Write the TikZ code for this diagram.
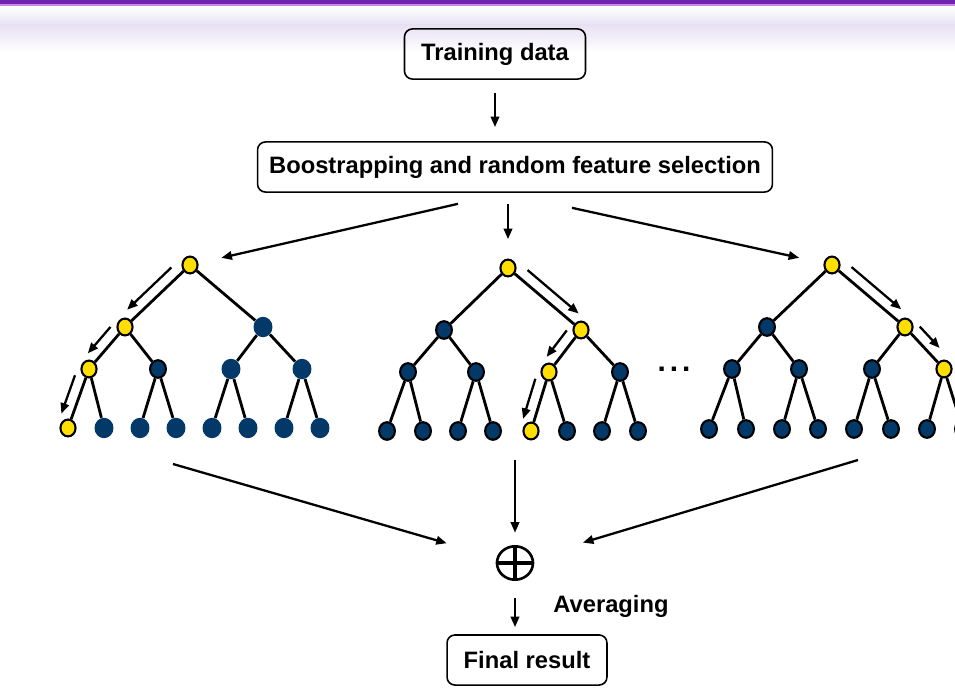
\documentclass[tikz,border=0pt]{standalone}
\usepackage{fontspec}
\setmainfont{Liberation Sans}
\usepackage{xcolor}
\usetikzlibrary{arrows.meta,calc,shapes.geometric}

\definecolor{leafblue}{RGB}{3,57,104}
\definecolor{pathyellow}{RGB}{255,222,0}
\definecolor{barpurple}{RGB}{110,36,172}
\definecolor{barpink}{RGB}{206,132,236}
\definecolor{haze}{RGB}{231,225,243}

\begin{document}
\begin{tikzpicture}[
  x=0.2mm,y=-0.2mm,
  txt/.style={font=\fontsize{13.5}{16}\selectfont\bfseries},
  box/.style={txt,draw,line width=0.9pt,rounded corners=4.5pt,
    minimum height=28.5pt,inner sep=2pt},
  yel/.style={ellipse,draw,line width=1.2pt,fill=pathyellow,
    minimum width=8.6pt,minimum height=9.6pt,inner sep=0pt},
  blu/.style={ellipse,draw,line width=1.2pt,fill=leafblue,
    minimum width=9pt,minimum height=10pt,inner sep=0pt},
  bare/.style={ellipse,fill=leafblue,
    minimum width=10.8pt,minimum height=11.6pt,inner sep=0pt},
  edge/.style={line width=1.6pt},
  arr/.style={-{Triangle[length=6pt,width=4.8pt]},line width=1.3pt}
]
\useasboundingbox (0,0) rectangle (955,688);

% title bar
\shade[top color=white,bottom color=haze] (0,6) rectangle (955,25);
\shade[top color=haze,bottom color=white] (0,25) rectangle (955,52);
\fill[barpink] (0,3) rectangle (955,6.5);
\fill[barpurple] (0,0) rectangle (955,4.5);

\node[box,minimum width=103pt] (train) at (495,54) {Training data};
\node[box,minimum width=293pt] (boost) at (515,167)
  {Boostrapping and random feature selection};
\node[box,minimum width=91pt] (final) at (527,660) {Final result};
\node[txt] (avg) at (611,606) {Averaging};
\node[ellipse,draw,line width=1.5pt,minimum width=20.5pt,
      minimum height=19pt] (sum) at (515,563) {};
\draw[line width=2.1pt] (sum.north) -- (sum.south) (sum.west) -- (sum.east);

% tree 1
\begin{scope}[shift={(190,265)}]
  \node[yel]  (t1r) at (0,0) {};
  \node[yel]  (t1a) at (-65,62) {};
  \node[bare] (t1b) at (73,62) {};
  \foreach \n/\x/\s in {c/-101/yel,d/-32/blu,e/41/bare,f/112/bare}
    \node[\s] (t1\n) at (\x,104) {};
  \foreach \n/\x/\s in {1/-122/yel,2/-86/bare,3/-50/bare,4/-14/bare,
                        5/22/bare,6/58/bare,7/94/bare,8/130/bare}
    \node[\s] (t1l\n) at (\x,163) {};
\end{scope}

% tree 2
\begin{scope}[shift={(508,268)}]
  \node[yel] (t2r) at (0,0) {};
  \node[blu] (t2a) at (-64,62) {};
  \node[yel] (t2b) at (73,62) {};
  \foreach \n/\x/\s in {c/-100/blu,d/-32/blu,e/41/yel,f/112/blu}
    \node[\s] (t2\n) at (\x,104) {};
  \foreach \n/\x/\s in {1/-121/blu,2/-85/blu,3/-50/blu,4/-15/blu,
                        5/23/yel,6/59/blu,7/94/blu,8/130/blu}
    \node[\s] (t2l\n) at (\x,163) {};
\end{scope}

\node[font=\fontsize{17}{18}\selectfont\bfseries,anchor=base] (dots)
  at (674,371) {.\kern2.2pt.\kern2.2pt.};

% tree 3
\begin{scope}[shift={(832,265)}]
  \node[yel] (t3r) at (0,0) {};
  \node[blu] (t3a) at (-65,62) {};
  \node[yel] (t3b) at (73,62) {};
  \foreach \n/\x/\s in {c/-100/blu,d/-33/blu,e/40/blu,f/112/yel}
    \node[\s] (t3\n) at (\x,104) {};
  \foreach \n/\x in {1/-123,2/-86,3/-50,4/-14,5/22,6/59,7/95,8/131}
    \node[blu] (t3l\n) at (\x,164) {};
\end{scope}

\foreach \t in {1,2,3}
  \foreach \p/\c in {r/a,r/b,a/c,a/d,b/e,b/f,c/l1,c/l2,
                     d/l3,d/l4,e/l5,e/l6,f/l7,f/l8}
    \draw[edge] (t\t\p) -- (t\t\c);

% decision path
\foreach \a/\b/\s/\e in {t1r/t1a/-90/.85,t1a/t1c/-90/.8,t1c/t1l1/-90/.82,
                         t2r/t2b/90/.87,t2b/t2e/-90/.8,t2e/t2l5/-90/.85,
                         t3r/t3b/90/.85,t3b/t3f/90/.68}
  \draw[arr] ($(\a)!.17!(\b)!6.3pt!\s:(\b)$) -- ($(\a)!\e!(\b)!6.3pt!\s:(\b)$);

% bootstrap samples
\coordinate (o1) at ([shift={(-57,11)}]boost.south);
\coordinate (o2) at ([shift={(-7,11)}]boost.south);
\coordinate (o3) at ([shift={(57,15)}]boost.south);
\draw[arr,shorten <=7.4pt,shorten >=8pt] (train.south) -- (train.south |- boost.north);
\draw[arr,shorten >=13.4pt] (o1) -- (t1r);
\draw[arr,shorten >=11pt] (o2) -- (t2r);
\draw[arr,shorten >=14.2pt] (o3) -- (t3r);

% averaging
\coordinate (in1) at (173,464);
\coordinate (in2) at (515,460);
\coordinate (in3) at (858,460);
\draw[arr,shorten >=29.5pt] (in1) -- (sum);
\draw[arr,shorten >=7pt] (in2) -- (sum);
\draw[arr,shorten >=29.4pt] (in3) -- (sum);
\draw[arr,shorten <=9.7pt,shorten >=4pt] (sum.south) -- (sum.south |- final.north);
\end{tikzpicture}
\end{document}
